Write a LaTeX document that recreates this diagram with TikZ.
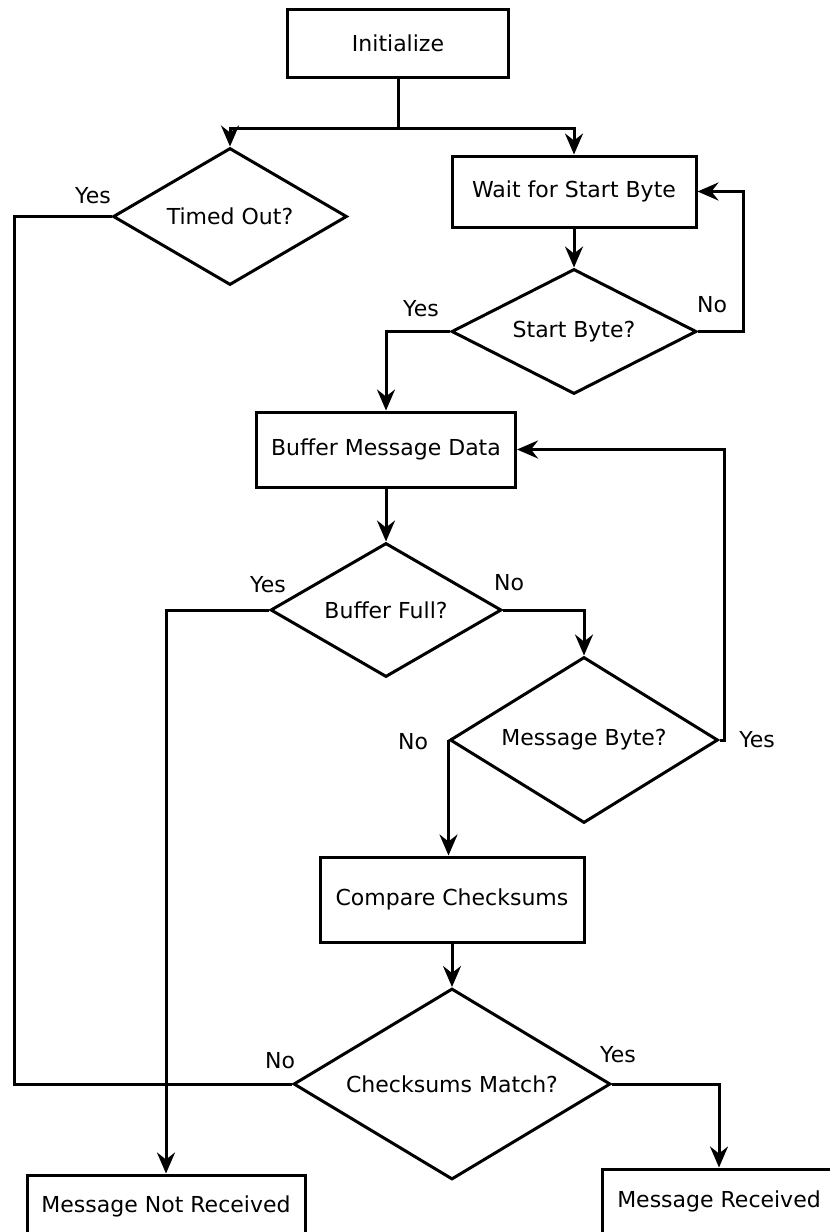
\documentclass[tikz,border=0pt]{standalone}
\usepackage{fontspec}
\setmainfont{DejaVu Sans}
\usetikzlibrary{arrows.meta, shapes.geometric}

\begin{document}
\begin{tikzpicture}[x=1pt, y=-1pt, line width=3pt,
		font=\fontsize{22}{26}\selectfont,
		block/.style={draw, rectangle, inner sep=0pt},
		decision/.style={draw, diamond, inner sep=0pt},
		flow/.style={-{Stealth[length=21pt, width=18pt, inset=7pt]}}]
				% Page
				\useasboundingbox (0,0) rectangle (830,1232);
				\clip (0,0) rectangle (830,1232);
				
				% Boxes
				\node[block, minimum width=221pt, minimum height=68pt] (init) at (398,43) {Initialize};
				\node[block, minimum width=244pt, minimum height=71pt] (wait) at (574,191.5) {Wait for Start Byte};
				\node[block, minimum width=259pt, minimum height=75pt] (buffer) at (386,449.5) {Buffer Message Data};
				\node[block, minimum width=264pt, minimum height=85pt] (compare) at (452,899.5) {Compare Checksums};
				\node[block, minimum width=278pt, minimum height=62pt] (notrecv) at (166,1206) {Message Not Received};
				\node[block, minimum width=234pt, minimum height=64pt] (recv) at (719,1201) {Message Received};
				
				% Decisions
				\node[decision, aspect=1.7, minimum width=234pt, minimum height=137pt] (timed) at (230,216.5) {Timed Out?};
				\node[decision, aspect=1.96, minimum width=245pt, minimum height=125pt] (start) at (574,331.5) {Start Byte?};
				\node[decision, aspect=1.72, minimum width=231pt, minimum height=134pt] (full) at (386,610) {Buffer Full?};
				\node[decision, aspect=1.61, minimum width=268pt, minimum height=166pt] (msgbyte) at (584,740) {Message Byte?};
				\node[decision, aspect=1.66, minimum width=317pt, minimum height=191pt] (match) at (452,1084) {Checksums Match?};
				
				% Labels
				\node (timedyes) at (93,196) {Yes};
				\node (startyes) at (421,309) {Yes};
				\node (startno) at (712,305) {No};
				\node (fullyes) at (268,585) {Yes};
				\node (fullno) at (509,583) {No};
				\node (byteno) at (413,742) {No};
				\node (byteyes) at (757,740) {Yes};
				\node (matchno) at (280,1061) {No};
				\node (matchyes) at (618,1055) {Yes};
				
				% Arrows
				\coordinate (fork) at (398,128);
				\draw (init) -- (fork);
				\draw[flow] (fork) -| (timed);
				\draw[flow] (fork) -| (wait);
				\draw[flow] (wait) -- (start);
				\draw[flow] (start.east) -- ++(45,0) |- (wait.east);
				\draw[flow] (start.west) -| (buffer);
				\draw[flow] (buffer) -- (full);
				\draw[flow] (full.east) -| (msgbyte);
				\draw[flow] (full.west) -| (notrecv);
				\draw[flow] (msgbyte.east) -- ++(5,0) |- (buffer.east);
				\draw[flow] (msgbyte.west) -- (compare.north -| msgbyte.west);
				\draw[flow] (compare) -- (match);
				\draw (timed.west) -- ++(-97,0) |- (match.west);
				\draw[flow] (match.east) -| (recv);
\end{tikzpicture}
\end{document}
